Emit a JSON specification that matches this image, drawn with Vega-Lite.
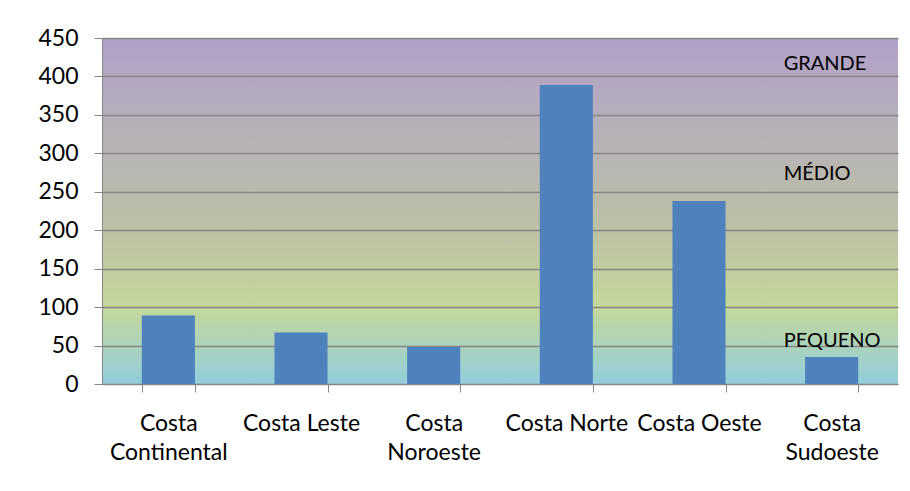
{
  "$schema": "https://vega.github.io/schema/vega-lite/v6.json",
  "width": 796,
  "height": 346,
  "autosize": {"type": "none"},
  "padding": {"left": 102, "top": 38, "right": 12, "bottom": 107},
  "background": "#ffffff",
  "config": {
    "font": "Lato",
    "view": {
      "stroke": null,
      "fill": {
        "gradient": "linear",
        "x1": 0, "y1": 0, "x2": 0, "y2": 1,
        "stops": [
          {"offset": 0, "color": "#b1a0c8"},
          {"offset": 0.35, "color": "#b8b5b3"},
          {"offset": 0.55, "color": "#bcc0a5"},
          {"offset": 0.78, "color": "#c4d89a"},
          {"offset": 1, "color": "#92cddc"}
        ]
      }
    }
  },
  "datasets": {
    "bars": [
      {"regiao": "Costa Continental", "valor": 89},
      {"regiao": "Costa Leste", "valor": 67},
      {"regiao": "Costa Noroeste", "valor": 48},
      {"regiao": "Costa Norte", "valor": 389},
      {"regiao": "Costa Oeste", "valor": 238},
      {"regiao": "Costa Sudoeste", "valor": 35}
    ],
    "faixas": [
      {"regiao": "Costa Sudoeste", "valor": 416, "rotulo": "GRANDE"},
      {"regiao": "Costa Sudoeste", "valor": 273, "rotulo": "MÉDIO"},
      {"regiao": "Costa Sudoeste", "valor": 56, "rotulo": "PEQUENO"}
    ]
  },
  "encoding": {
    "x": {
      "field": "regiao",
      "type": "nominal",
      "sort": null,
      "scale": {"paddingInner": 0.6, "paddingOuter": 0.3},
      "axis": {
        "title": null,
        "labelAngle": 0,
        "labelFont": "Lato",
        "labelFontSize": 23,
        "labelColor": "#000000",
        "labelPadding": 20,
        "labelLineHeight": 29,
        "labelBaseline": "top",
        "labelOverlap": false,
        "labelExpr": "length(datum.label) > 11 ? split(datum.label, ' ') : datum.label",
        "tickBand": "extent",
        "tickSize": 8,
        "tickColor": "#868686",
        "domainColor": "#868686",
        "grid": false
      }
    },
    "y": {
      "field": "valor",
      "type": "quantitative",
      "scale": {"domain": [0, 450], "nice": false},
      "axis": {
        "title": null,
        "values": [0, 50, 100, 150, 200, 250, 300, 350, 400, 450],
        "labelOverlap": false,
        "labelFont": "Lato",
        "labelFontSize": 23,
        "labelColor": "#000000",
        "labelPadding": 16,
        "tickSize": 8,
        "tickColor": "#868686",
        "domainColor": "#868686",
        "gridColor": "#868686",
        "gridOpacity": 1,
        "gridWidth": 1.3
      }
    }
  },
  "layer": [
    {
      "data": {"name": "bars"},
      "mark": {"type": "bar", "color": "#4f81bd"}
    },
    {
      "data": {"name": "faixas"},
      "mark": {"type": "text", "align": "left", "baseline": "middle", "dx": -48, "font": "Lato", "fontSize": 20, "color": "#000000"},
      "encoding": {
        "text": {"field": "rotulo"}
      }
    }
  ]
}
